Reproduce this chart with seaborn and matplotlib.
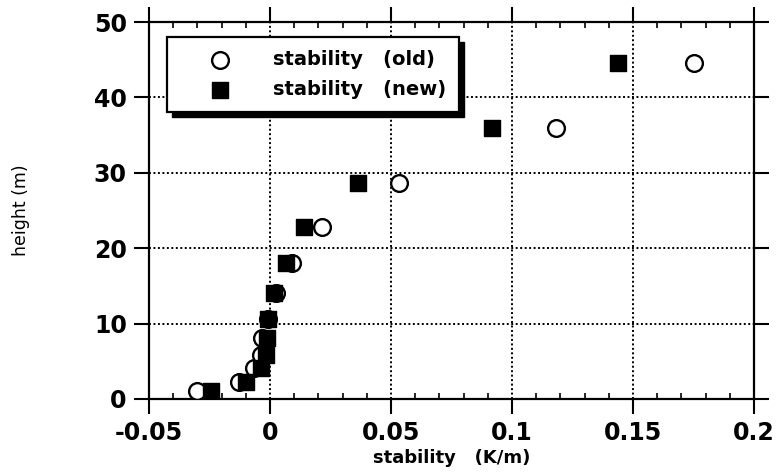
import matplotlib
matplotlib.use("Agg")
import matplotlib.pyplot as plt
import seaborn as sns
from matplotlib.patches import Rectangle
from matplotlib.ticker import MultipleLocator

# Measured profile: height above ground and static stability (old vs new processing)
height_m = [1.0, 2.3, 4.1, 5.8, 8.1, 10.6, 14.0, 18.0, 22.8, 28.6, 35.9, 44.6]
stability_old = [-0.030, -0.0128, -0.0066, -0.0037, -0.0033, -0.0010,
                 0.0025, 0.009, 0.0215, 0.0535, 0.118, 0.175]
stability_new = [-0.0244, -0.0099, -0.0037, -0.0017, -0.0012, -0.0008,
                 0.0017, 0.0066, 0.014, 0.0364, 0.0917, 0.1438]
series_labels = ["stability   (old)", "stability   (new)"]

x_ticks = [-0.05, 0, 0.05, 0.1, 0.15, 0.2]
x_tick_labels = ["-0.05", "0", "0.05", "0.1", "0.15", "0.2"]
y_ticks = [0, 10, 20, 30, 40, 50]
y_tick_labels = ["0", "10", "20", "30", "40", "50"]

sns.set_theme(style="white")
plt.rcParams["font.family"] = ["DejaVu Sans"]
plt.rcParams.update({"text.color": "black", "axes.labelcolor": "black",
                     "xtick.color": "black", "ytick.color": "black"})

W, H = 782, 475
fig = plt.figure(figsize=(W / 100, H / 100), dpi=100)
left_px, right_px, top_px, bottom_px = 149, 754, 22, 399
ax = fig.add_axes([left_px / W, 1 - bottom_px / H,
                   (right_px - left_px) / W, (bottom_px - top_px) / H])

sns.scatterplot(x=stability_old, y=height_m, marker="o", s=145,
                color="white", edgecolor="black", linewidth=1.7,
                label=series_labels[0], ax=ax, zorder=3)
sns.scatterplot(x=stability_new, y=height_m, marker="s", s=125,
                color="black", edgecolor="black", linewidth=1.0,
                label=series_labels[1], ax=ax, zorder=4)

ax.set_xlim(-0.05, 0.2)
ax.set_ylim(0, 50)
ax.set_xticks(x_ticks, x_tick_labels)
ax.set_yticks(y_ticks, y_tick_labels)
ax.xaxis.set_minor_locator(MultipleLocator(0.01))

ax.tick_params(which="major", direction="out", length=11, width=1.5,
               top=True, right=True, bottom=True, left=True,
               labelsize=17, pad=5, colors="black")
ax.tick_params(axis="x", which="minor", direction="in", length=4, width=1.2,
               top=True, bottom=True, colors="black")
for lab in ax.get_xticklabels() + ax.get_yticklabels():
    lab.set_fontweight("bold")

for sp in ax.spines.values():
    sp.set_color("black")
    sp.set_linewidth(1.6)

ax.grid(True, which="major", color="black", linestyle=(0, (1, 1.3)), linewidth=1.4)
ax.set_axisbelow(True)

ax.set_xlabel("stability   (K/m)", fontsize=13, fontweight="bold", labelpad=3)
ax.set_ylabel("height (m)", fontsize=12.5)
ax.yaxis.set_label_coords(-0.197, 0.5)

leg = ax.legend(loc="upper left",
                bbox_to_anchor=(18 / 605, (399 - 37) / 377),
                borderaxespad=0, frameon=True, fancybox=False,
                edgecolor="black", framealpha=1,
                prop={"weight": "bold", "size": 14},
                borderpad=0.65, handlelength=4.2, handletextpad=0.6,
                labelspacing=0.6, scatterpoints=1)
leg.get_frame().set_linewidth(1.6)
leg.set_zorder(10)
for t in leg.get_texts():
    t.set_color("black")

# Solid drop shadow offset down-right behind the legend box
fig.canvas.draw()
bb = leg.get_frame().get_window_extent(fig.canvas.get_renderer())
inv = ax.transAxes.inverted()
(x0, y0), (x1, y1) = inv.transform([(bb.x0 + 5, bb.y0 - 5), (bb.x1 + 5, bb.y1 - 5)])
ax.add_artist(Rectangle((x0, y0), x1 - x0, y1 - y0, transform=ax.transAxes,
                        facecolor="black", edgecolor="black", zorder=9,
                        clip_on=False))

fig.savefig("out.png", dpi=100)
